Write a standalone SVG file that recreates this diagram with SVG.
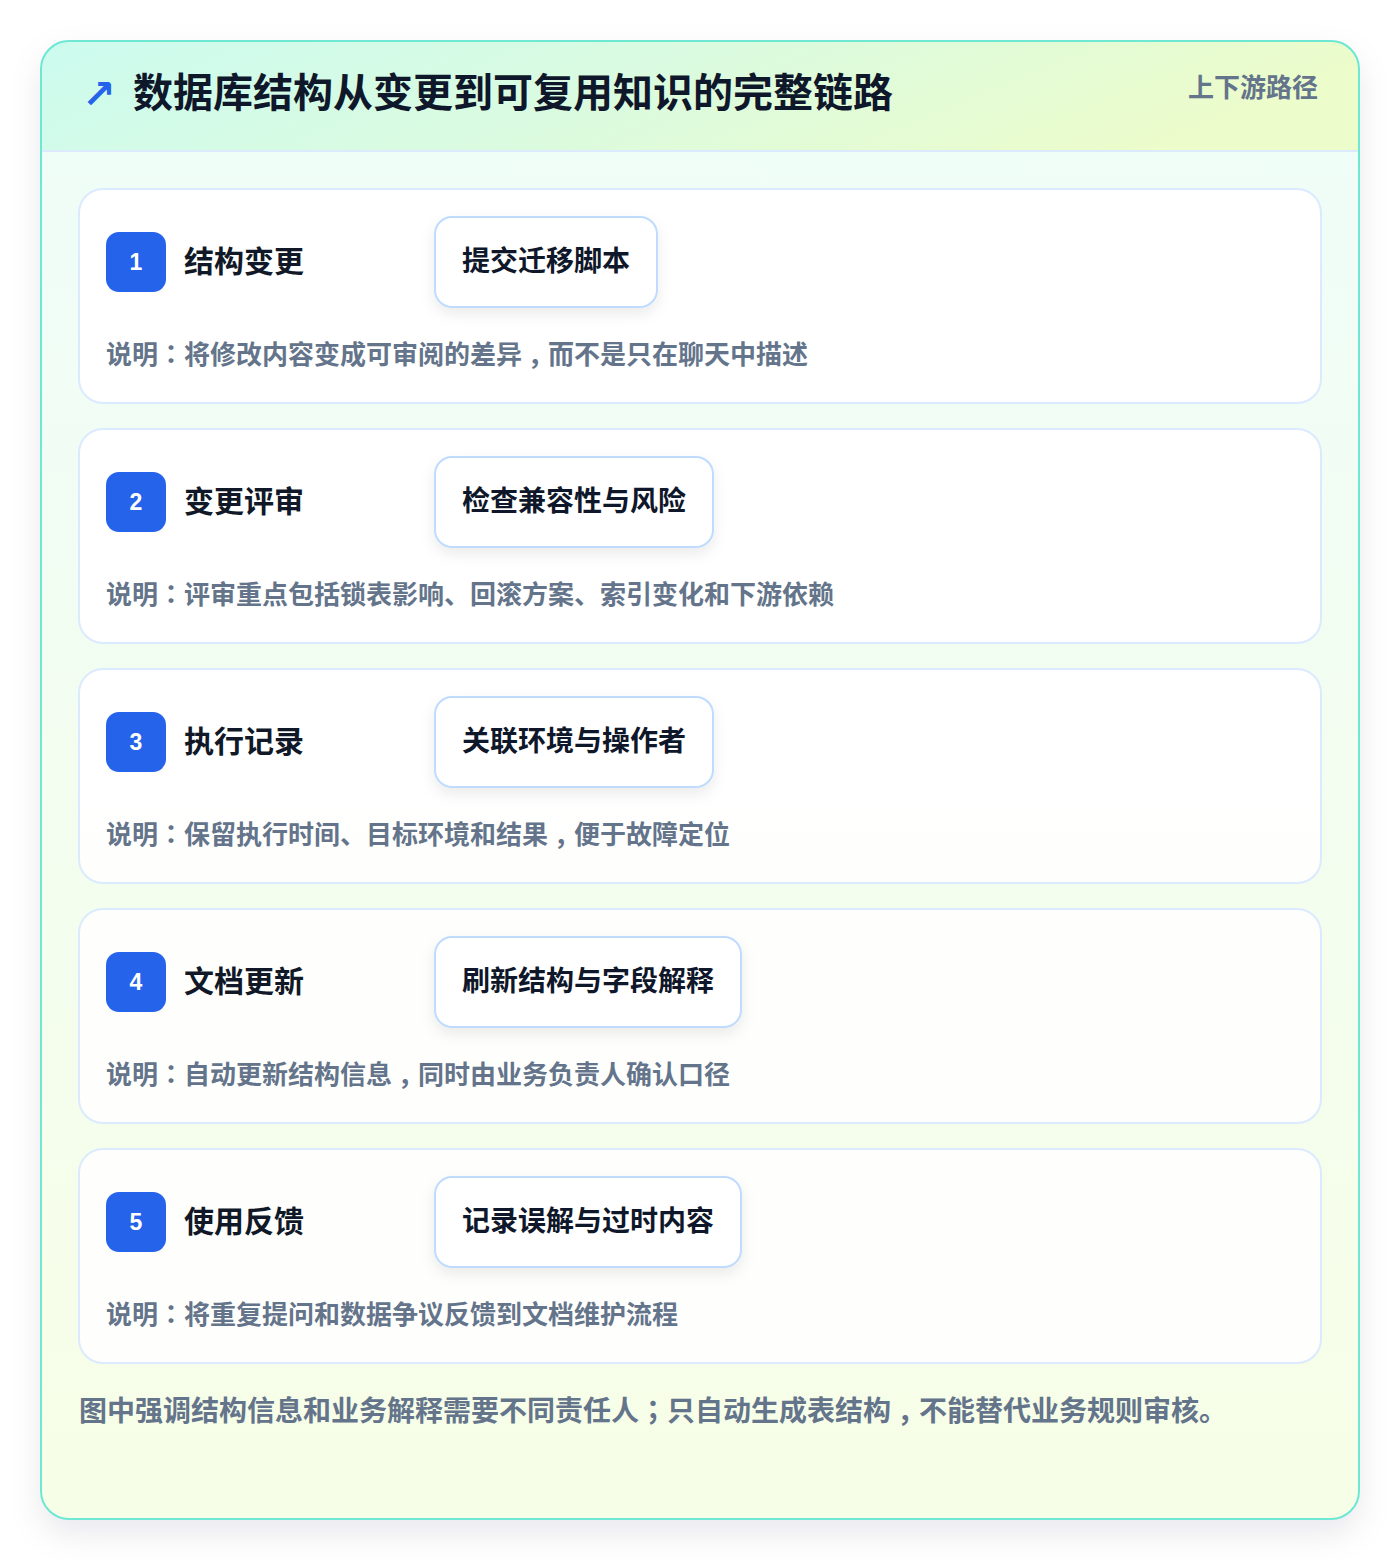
<svg xmlns="http://www.w3.org/2000/svg" width="1400" height="1560" viewBox="0 0 1400 1560">
<defs>
<linearGradient id="hdr" x1="0" y1="0" x2="1" y2="0.2">
<stop offset="0" stop-color="#ccfbef"/>
<stop offset="0.5" stop-color="#dafbe0"/>
<stop offset="1" stop-color="#ecfccb"/>
</linearGradient>
<linearGradient id="body" x1="0" y1="0" x2="0" y2="1">
<stop offset="0" stop-color="#effdf9"/>
<stop offset="1" stop-color="#f7fee7"/>
</linearGradient>
<clipPath id="panelClip"><rect x="41" y="41" width="1318" height="1478" rx="28"/></clipPath>
<filter id="panelShadow" x="-10%" y="-10%" width="120%" height="120%">
<feDropShadow dx="0" dy="14" stdDeviation="16" flood-color="#0f172a" flood-opacity="0.09"/>
</filter>
<filter id="pillShadow" x="-20%" y="-30%" width="140%" height="170%">
<feDropShadow dx="0" dy="6" stdDeviation="7" flood-color="#0f172a" flood-opacity="0.08"/>
</filter>
</defs>
<style>
.card{fill:#ffffff;fill-opacity:0.88;stroke:#dbeafe;stroke-width:2}
.badge{fill:#2563eb}
.num{font-family:"Liberation Sans","Noto Sans CJK SC",sans-serif;font-size:23px;font-weight:700;fill:#ffffff;text-anchor:middle}
.ttl{font-family:"Noto Sans CJK SC",sans-serif;font-size:30px;font-weight:700;fill:#111827}
.pill{fill:#ffffff;stroke:#bfdbfe;stroke-width:2}
.ptxt{font-family:"Noto Sans CJK SC",sans-serif;font-size:28px;font-weight:700;fill:#0f172a}
.desc{font-family:"Noto Sans CJK SC",sans-serif;font-size:26px;font-weight:600;fill:#64748b}
.p{font-family:"Noto Sans CJK TC",sans-serif}
</style>
<rect width="1400" height="1560" fill="#ffffff"/>
<g id="panel">
<rect x="41" y="41" width="1318" height="1478" rx="28" fill="url(#body)" filter="url(#panelShadow)"/>
<g clip-path="url(#panelClip)">
<rect x="41" y="41" width="1318" height="110" fill="url(#hdr)"/>
<line x1="41" y1="151" x2="1359" y2="151" stroke="#dbeafe" stroke-width="2"/>
</g>
<rect x="41" y="41" width="1318" height="1478" rx="28" fill="none" stroke="#6ee7d3" stroke-width="2"/>
</g>
<g id="header">
<text x="82" y="108" font-family="'DejaVu Sans',sans-serif" font-size="40" font-weight="700" fill="#2563eb">↗</text>
<text x="133" y="107" font-family="'Noto Sans CJK SC',sans-serif" font-size="40" font-weight="700" fill="#0f172a">数据库结构从变更到可复用知识的完整链路</text>
<text x="1318" y="97" text-anchor="end" font-family="'Noto Sans CJK SC',sans-serif" font-size="26" font-weight="600" fill="#64748b">上下游路径</text>
</g>
<g id="step1">
<rect class="card" x="79" y="189" width="1242" height="214" rx="24"/>
<rect class="badge" x="106" y="232" width="60" height="60" rx="13"/>
<text class="num" x="136" y="270">1</text>
<text class="ttl" x="184" y="272">结构变更</text>
<rect class="pill" x="435" y="217" width="222" height="90" rx="17" filter="url(#pillShadow)"/>
<text class="ptxt" x="462" y="271">提交迁移脚本</text>
<text class="desc" x="106" y="364">说明<tspan class="p">：</tspan>将修改内容变成可审阅的差异<tspan class="p" dy="9">，</tspan><tspan dy="-9">而不是只在聊天中描述</tspan></text>
</g>
<g id="step2">
<rect class="card" x="79" y="429" width="1242" height="214" rx="24"/>
<rect class="badge" x="106" y="472" width="60" height="60" rx="13"/>
<text class="num" x="136" y="510">2</text>
<text class="ttl" x="184" y="512">变更评审</text>
<rect class="pill" x="435" y="457" width="278" height="90" rx="17" filter="url(#pillShadow)"/>
<text class="ptxt" x="462" y="511">检查兼容性与风险</text>
<text class="desc" x="106" y="604">说明<tspan class="p">：</tspan>评审重点包括锁表影响、回滚方案、索引变化和下游依赖</text>
</g>
<g id="step3">
<rect class="card" x="79" y="669" width="1242" height="214" rx="24"/>
<rect class="badge" x="106" y="712" width="60" height="60" rx="13"/>
<text class="num" x="136" y="750">3</text>
<text class="ttl" x="184" y="752">执行记录</text>
<rect class="pill" x="435" y="697" width="278" height="90" rx="17" filter="url(#pillShadow)"/>
<text class="ptxt" x="462" y="751">关联环境与操作者</text>
<text class="desc" x="106" y="844">说明<tspan class="p">：</tspan>保留执行时间、目标环境和结果<tspan class="p" dy="9">，</tspan><tspan dy="-9">便于故障定位</tspan></text>
</g>
<g id="step4">
<rect class="card" x="79" y="909" width="1242" height="214" rx="24"/>
<rect class="badge" x="106" y="952" width="60" height="60" rx="13"/>
<text class="num" x="136" y="990">4</text>
<text class="ttl" x="184" y="992">文档更新</text>
<rect class="pill" x="435" y="937" width="306" height="90" rx="17" filter="url(#pillShadow)"/>
<text class="ptxt" x="462" y="991">刷新结构与字段解释</text>
<text class="desc" x="106" y="1084">说明<tspan class="p">：</tspan>自动更新结构信息<tspan class="p" dy="9">，</tspan><tspan dy="-9">同时由业务负责人确认口径</tspan></text>
</g>
<g id="step5">
<rect class="card" x="79" y="1149" width="1242" height="214" rx="24"/>
<rect class="badge" x="106" y="1192" width="60" height="60" rx="13"/>
<text class="num" x="136" y="1230">5</text>
<text class="ttl" x="184" y="1232">使用反馈</text>
<rect class="pill" x="435" y="1177" width="306" height="90" rx="17" filter="url(#pillShadow)"/>
<text class="ptxt" x="462" y="1231">记录误解与过时内容</text>
<text class="desc" x="106" y="1324">说明<tspan class="p">：</tspan>将重复提问和数据争议反馈到文档维护流程</text>
</g>
<g id="connectors"/>
<g id="footer">
<text x="79" y="1421" font-family="'Noto Sans CJK SC',sans-serif" font-size="28" font-weight="600" fill="#64748b">图中强调结构信息和业务解释需要不同责任人<tspan class="p">；</tspan>只自动生成表结构<tspan class="p" dy="10">，</tspan><tspan dy="-10">不能替代业务规则审核。</tspan></text>
</g>
</svg>
